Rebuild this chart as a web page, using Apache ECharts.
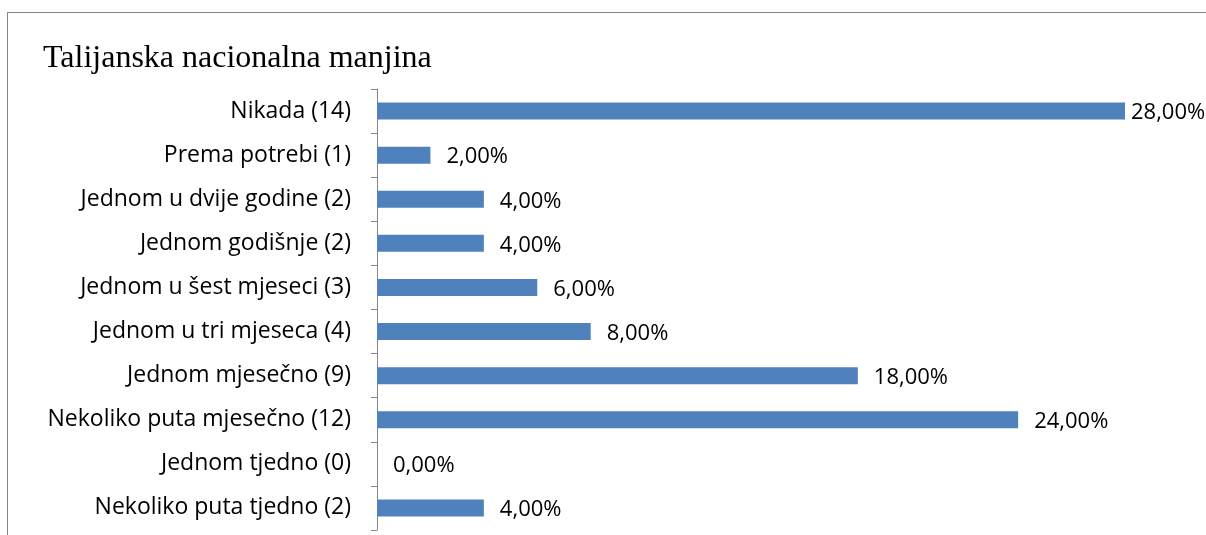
<!DOCTYPE html>
<html>
<head>
<meta charset="utf-8">
<script src="https://cdn.jsdelivr.net/npm/echarts@6/dist/echarts.min.js"></script>
<style>
  html, body { margin: 0; padding: 0; background: #fff; }
  #chart { width: 1206px; height: 535px; position: relative; }
  .frame { position: absolute; left: 7px; top: 12px; width: 1220px; height: 560px; border: 1.5px solid #868686; box-sizing: border-box; pointer-events: none; }
</style>
</head>
<body>
<div id="chart"></div>
<script>
// kategorije odozgo prema dolje
var categories = [
  'Nikada (14)',
  'Prema potrebi (1)',
  'Jednom u dvije godine (2)',
  'Jednom godišnje (2)',
  'Jednom u šest mjeseci (3)',
  'Jednom u tri mjeseca (4)',
  'Jednom mjesečno (9)',
  'Nekoliko puta mjesečno (12)',
  'Jednom tjedno (0)',
  'Nekoliko puta tjedno (2)'
];
var percents = [28, 2, 4, 4, 6, 8, 18, 24, 0, 4];
var titleText = 'Talijanska nacionalna manjina';

var myChart = echarts.init(document.getElementById('chart'));
var option = {
  animation: false,
  title: {
    text: titleText,
    left: 38,
    top: 38,
    textStyle: {
      fontFamily: 'Liberation Serif',
      fontWeight: 'normal',
      fontSize: 32,
      color: '#000'
    }
  },
  grid: {
    left: 377,
    top: 89,
    right: 81,
    bottom: 5,
    containLabel: false
  },
  xAxis: {
    type: 'value',
    min: 0,
    max: 28,
    show: false
  },
  yAxis: {
    type: 'category',
    inverse: true,
    data: categories,
    axisLine: { show: true, lineStyle: { color: '#868686', width: 1 } },
    axisTick: { show: true, length: 6, lineStyle: { color: '#868686' } },
    axisLabel: {
      margin: 26,
      fontFamily: 'Open Sans',
      fontSize: 23,
      color: '#000'
    }
  },
  series: [
    {
      type: 'bar',
      data: percents.map(function (v, i) {
        return {
          value: v,
          label: { distance: i === 0 ? 6 : 16 }
        };
      }),
      barWidth: 17,
      itemStyle: { color: '#4F81BD' },
      label: {
        show: true,
        position: 'right',
        fontFamily: 'Open Sans',
        fontSize: 22,
        color: '#000',
        offset: [0, 2],
        formatter: function (p) {
          return p.value.toFixed(2).replace('.', ',') + '%';
        }
      }
    }
  ]
};
myChart.setOption(option);
</script>
<div class="frame" style="position:absolute;"></div>
</body>
</html>
